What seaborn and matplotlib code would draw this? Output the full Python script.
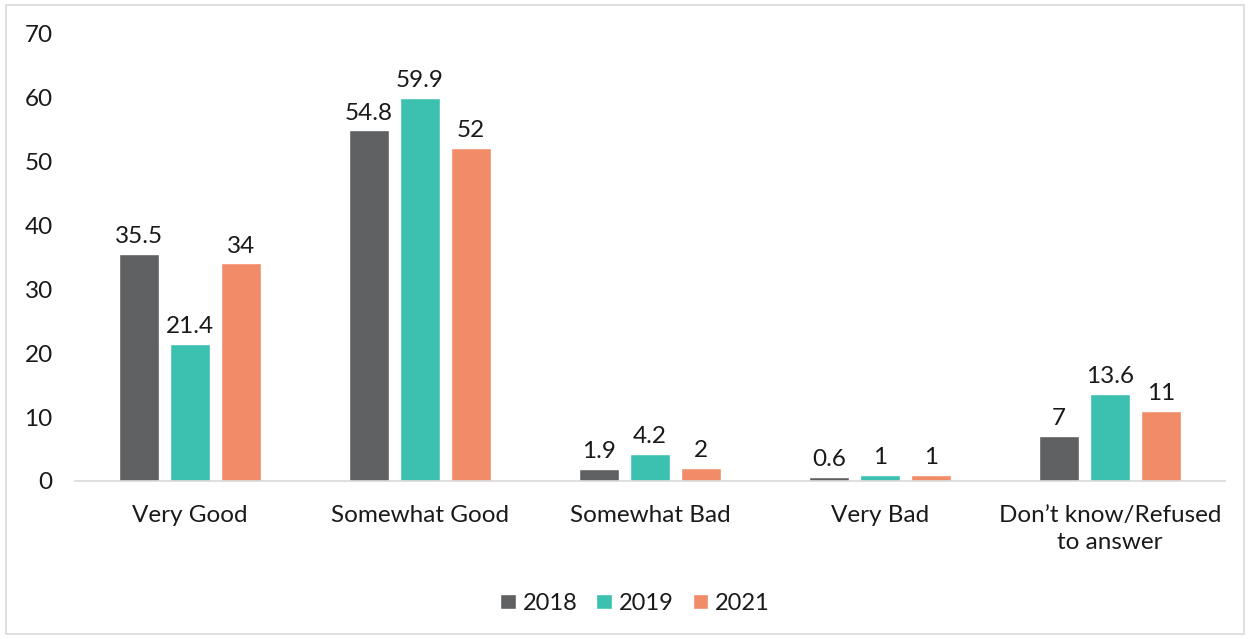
import matplotlib
matplotlib.use("Agg")
import matplotlib.pyplot as plt
from matplotlib.patches import Rectangle
import seaborn as sns
import pandas as pd

categories = ["Very Good", "Somewhat Good", "Somewhat Bad", "Very Bad",
              "Don\u2019t know/Refused\nto answer"]
years = ["2018", "2019", "2021"]
values_2018 = [35.5, 54.8, 1.9, 0.6, 7]
values_2019 = [21.4, 59.9, 4.2, 1, 13.6]
values_2021 = [34, 52, 2, 1, 11]
colors = ["#5f6062", "#3cc0b0", "#f28b68"]

df = pd.DataFrame({
    "category": categories * 3,
    "year": [y for y in years for _ in categories],
    "value": values_2018 + values_2019 + values_2021,
})

sns.set_theme(style="white")
plt.rcParams["font.family"] = ["Lato", "DejaVu Sans"]

FS = 17.5
fig = plt.figure(figsize=(12.5, 6.39), dpi=100)
ax = fig.add_axes([0.06, 0.2473, 0.92, 0.7007])

sns.barplot(data=df, x="category", y="value", hue="year", order=categories,
            hue_order=years, palette=colors, width=0.665, gap=0.2,
            saturation=1, ax=ax, legend=True)

fmt = lambda v: f"{v:g}"
for cont in ax.containers:
    ax.bar_label(cont, labels=[fmt(b.get_height()) for b in cont],
                 padding=5, fontsize=FS, color="#1a1a1a")

ax.set_ylim(0, 70)
ax.set_yticks(range(0, 71, 10))
ax.set_xlim(-0.5, 4.5)
ax.set_xlabel("")
ax.set_ylabel("")
ax.tick_params(axis="both", length=0, labelsize=FS, colors="#1a1a1a")
ax.tick_params(axis="y", pad=16)
ax.tick_params(axis="x", pad=17)
for lbl in ax.get_xticklabels():
    lbl.set_linespacing(1.35)
for s in ["left", "right", "top"]:
    ax.spines[s].set_visible(False)
ax.spines["bottom"].set_color("#d9d9d9")
ax.spines["bottom"].set_linewidth(1.2)

handles, labels = ax.get_legend_handles_labels()
ax.legend(handles, labels, loc="center", bbox_to_anchor=(0.508, 0.056),
          bbox_transform=fig.transFigure, ncol=3, frameon=False,
          fontsize=17, handlelength=0.65, handleheight=0.65,
          handletextpad=0.3, columnspacing=0.8, labelcolor="#1a1a1a")

fig.patches.append(Rectangle((6 / 1250, 5 / 639), 1238 / 1250, 629 / 639,
                             transform=fig.transFigure, fill=False,
                             edgecolor="#d9d9d9", linewidth=1.2))

fig.savefig("out.png", dpi=100)
